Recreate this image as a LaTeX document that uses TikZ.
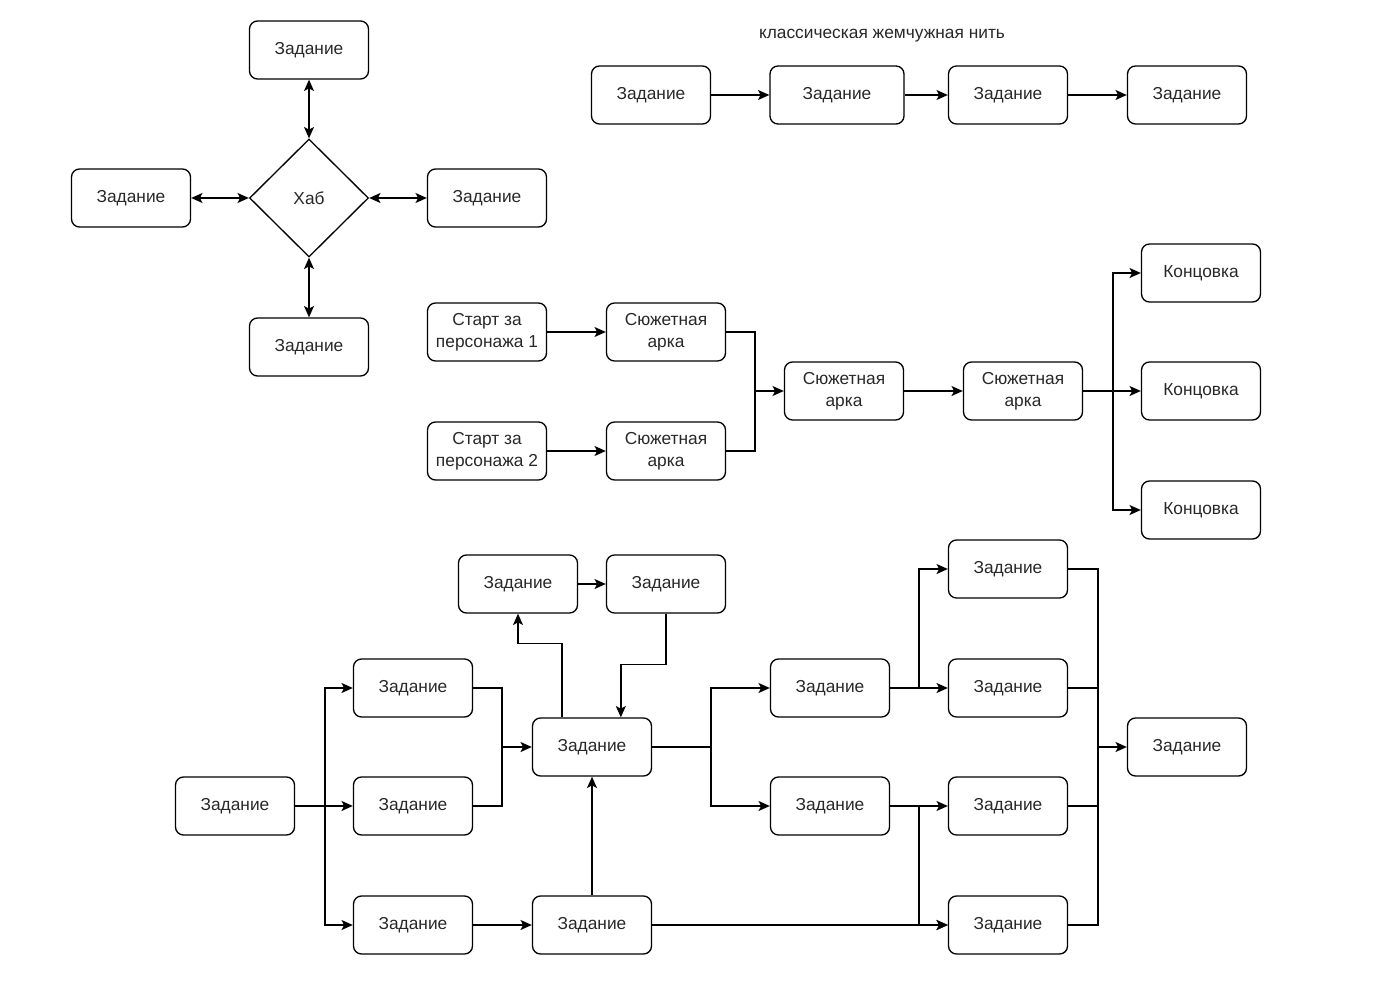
\documentclass[tikz,border=0pt]{standalone}
\usepackage{fontspec}
\setmainfont{Liberation Sans}
\usetikzlibrary{shapes.geometric,arrows.meta,calc}
\definecolor{txt}{RGB}{40,40,40}
\tikzset{
  box/.style={draw, rectangle, rounded corners=6pt, line width=1pt,
    minimum width=89.25pt, minimum height=43.5pt, align=center, inner sep=2pt,
    text=txt, font=\fontsize{13}{16.5}\selectfont},
  hub/.style={draw, diamond, line width=1pt, minimum width=89.25pt, minimum height=88.5pt,
    inner sep=0pt, text=txt, font=\fontsize{13}{16.5}\selectfont},
  arr/.style={line width=1pt, -{Stealth[length=8.5pt,width=7.5pt,inset=2pt]}},
  biarr/.style={line width=1pt, {Stealth[length=8.5pt,width=7.5pt,inset=2pt]}-{Stealth[length=8.5pt,width=7.5pt,inset=2pt]}},
  ln/.style={line width=1pt}
}
\begin{document}
\begin{tikzpicture}[x=0.75pt,y=-0.75pt]
\useasboundingbox (0,0) rectangle (1380,988);
% hub
\node[hub] (hb) at (309,198) {Хаб};
\node[box] (ht) at (309,50) {Задание};
\node[box] (hl) at (131,198) {Задание};
\node[box] (hr) at (487,198) {Задание};
\node[box] (hd) at (309,347) {Задание};
\draw[biarr] (ht) -- (hb);
\draw[biarr] (hl) -- (hb);
\draw[biarr] (hr) -- (hb);
\draw[biarr] (hd) -- (hb);
% pearl chain
\node[text=txt, font=\fontsize{13}{16.5}\selectfont] (ttl) at (882,36) {классическая жемчужная нить};
\node[box] (p1) at (651,95) {Задание};
\node[box,minimum width=100.5pt] (p2) at (837,95) {Задание};
\node[box] (p3) at (1008,95) {Задание};
\node[box] (p4) at (1187,95) {Задание};
\draw[arr] (p1) -- (p2);
\draw[arr] (p2) -- (p3);
\draw[arr] (p3) -- (p4);
% story
\node[box] (s1) at (487,332) {Старт за\\персонажа 1};
\node[box] (s2) at (487,451) {Старт за\\персонажа 2};
\node[box] (a1) at (666,332) {Сюжетная\\арка};
\node[box] (a2) at (666,451) {Сюжетная\\арка};
\node[box] (a3) at (844,391) {Сюжетная\\арка};
\node[box] (a4) at (1023,391) {Сюжетная\\арка};
\node[box] (k1) at (1201,273) {Концовка};
\node[box] (k2) at (1201,391) {Концовка};
\node[box] (k3) at (1201,510) {Концовка};
\coordinate (sj) at (755,391);
\coordinate (kj) at (1113,391);
\draw[arr] (s1) -- (a1);
\draw[arr] (s2) -- (a2);
\draw[ln] (a1.east) -| (sj);
\draw[ln] (a2.east) -| (sj);
\draw[arr] (sj) -- (a3.west);
\draw[arr] (a3) -- (a4);
\draw[arr] (a4) -- (k2);
\draw[arr] (kj) |- (k1.west);
\draw[arr] (kj) |- (k3.west);
% bottom network
\node[box] (st) at (235,806) {Задание};
\node[box] (b1) at (413,688) {Задание};
\node[box] (b2) at (413,806) {Задание};
\node[box] (b3) at (413,925) {Задание};
\node[box] (bc) at (592,747) {Задание};
\node[box] (bd) at (592,925) {Задание};
\node[box] (c1) at (518,584) {Задание};
\node[box] (c2) at (666,584) {Задание};
\node[box] (e1) at (830,688) {Задание};
\node[box] (e2) at (830,806) {Задание};
\node[box] (f1) at (1008,569) {Задание};
\node[box] (f2) at (1008,688) {Задание};
\node[box] (f3) at (1008,806) {Задание};
\node[box] (f4) at (1008,925) {Задание};
\node[box] (g) at (1187,747) {Задание};
\coordinate (j1) at (325,806);
\coordinate (j2) at (502,747);
\coordinate (j3) at (711,747);
\coordinate (j4) at (919,688);
\coordinate (j5) at (919,806);
\coordinate (j6) at (1098,747);
\draw[arr] (st) -- (b2);
\draw[arr] (j1) |- (b1.west);
\draw[arr] (j1) |- (b3.west);
\draw[ln] (b1.east) -| (j2);
\draw[ln] (b2.east) -| (j2);
\draw[arr] (j2) -- (bc.west);
\draw[arr] ($(bc.north west)+(30,0)$) -- ++(0,-74) -| (c1.south);
\draw[arr] (c1) -- (c2);
\draw[arr] (c2.south) -- ++(0,51) -| ($(bc.north west)+(89,0)$);
\draw[arr] (b3) -- (bd);
\draw[arr] (bd) -- (bc);
\draw[ln] (bc.east) -- (j3);
\draw[arr] (j3) |- (e1.west);
\draw[arr] (j3) |- (e2.west);
\draw[arr] (e1) -- (f2);
\draw[arr] (j4) |- (f1.west);
\draw[arr] (e2) -- (f3);
\draw[arr] (j5) |- (f4.west);
\draw[arr] (bd) -- (f4);
\draw[ln] (f1.east) -| (j6);
\draw[ln] (f2.east) -| (j6);
\draw[ln] (f3.east) -| (j6);
\draw[ln] (f4.east) -| (j6);
\draw[arr] (j6) -- (g.west);
\end{tikzpicture}
\end{document}
